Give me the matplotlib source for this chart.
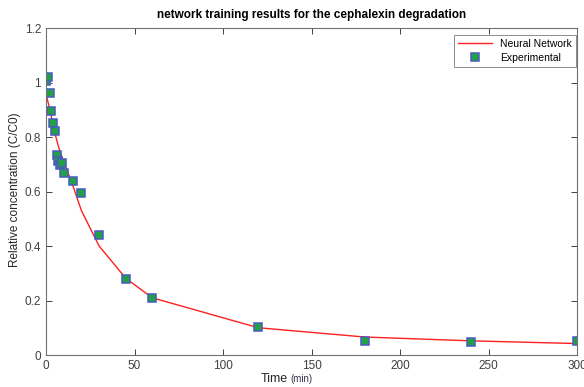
import numpy as np
import matplotlib
matplotlib.use('Agg')
import matplotlib.pyplot as plt

plt.rcParams.update({
    'font.family': ['Liberation Sans', 'DejaVu Sans'],
    'font.size': 8,
    'xtick.direction': 'in', 'ytick.direction': 'in',
    'xtick.top': True, 'ytick.right': True,
})

# Sampling times (min)
time_exp = [0, 1, 2, 3, 4, 5, 6, 7, 8, 9, 10, 15, 20, 30, 45, 60, 120, 180, 240, 300]
conc_exp = [1.005, 1.02, 0.962, 0.895, 0.851, 0.823, 0.735, 0.713, 0.697, 0.705,
            0.667, 0.637, 0.593, 0.440, 0.279, 0.209, 0.103, 0.051, 0.048, 0.050]

# Neural network output at the same times
conc_nn = [0.960, 0.932, 0.905, 0.875, 0.845, 0.815, 0.790, 0.766, 0.745, 0.727,
           0.710, 0.625, 0.530, 0.400, 0.282, 0.210, 0.100, 0.066, 0.052, 0.042]

x_ticks = [0, 50, 100, 150, 200, 250, 300]
y_ticks = [0, 0.2, 0.4, 0.6, 0.8, 1.0, 1.2]
y_tick_labels = ['0', '0.2', '0.4', '0.6', '0.8', '1', '1.2']

fig = plt.figure(figsize=(5.84, 3.87), dpi=100)
ax = fig.add_axes([46 / 584, 1 - 355 / 387, 531 / 584, 327 / 387])

ax.plot(time_exp, conc_nn, color='#ff2020', linewidth=1.0, label='Neural Network')
ax.plot(time_exp, conc_exp, linestyle='none', marker='s', markersize=5.5,
        markerfacecolor='#22a046', markeredgecolor='#4a5ac0', markeredgewidth=1.1,
        label='Experimental')

ax.set_xlim(0, 300)
ax.set_ylim(0, 1.2)
ax.set_xticks(x_ticks)
ax.set_yticks(y_ticks)
ax.set_yticklabels(y_tick_labels)
ax.tick_params(colors='#404040', labelsize=8.5, length=4, width=0.7)
for s in ax.spines.values():
    s.set_color('#707070')
    s.set_linewidth(0.8)

ax.set_title('network training results for the cephalexin degradation',
             fontsize=8.5, fontweight='bold', pad=7)

# y label placed directly so it stays inside the figure
fig.text(15 / 584, 1 - 190 / 387, 'Relative concentration (C/C0)', fontsize=8.5,
         color='#262626', rotation=90, ha='center', va='center')

# x label with a smaller unit part
fig.text(288 / 584, 2 / 387, 'Time', fontsize=9, color='#262626', ha='right', va='bottom')
fig.text(290 / 584, 3 / 387, '(min)', fontsize=7, color='#3a3050', ha='left', va='bottom')

leg = ax.legend(loc='upper right', fontsize=7.5, frameon=True, fancybox=False,
                edgecolor='#707070', borderpad=0.4, handlelength=3.2,
                borderaxespad=0, bbox_to_anchor=(0.998, 0.979), labelspacing=0.35)
leg.get_frame().set_linewidth(0.7)

fig.savefig('out.png', dpi=100)
